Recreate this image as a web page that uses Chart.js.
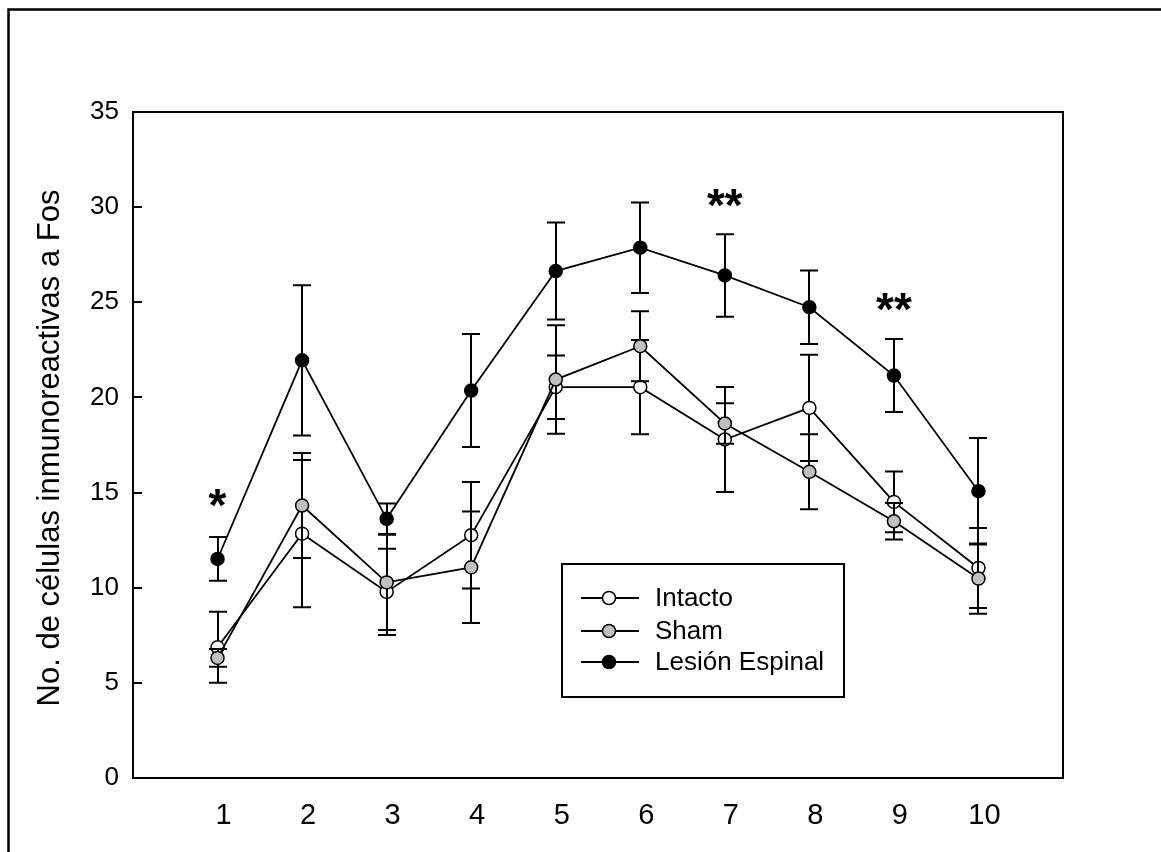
<!DOCTYPE html>
<html><head><meta charset="utf-8">
<script src="https://cdn.jsdelivr.net/npm/chart.js@4/dist/chart.umd.min.js"></script>
<style>html,body{margin:0;padding:0;background:#fff;}#wrap{position:relative;width:1161px;height:852px;}</style>
</head><body><div id="wrap"><canvas id="c" width="1161" height="852"></canvas></div>
<script>
const categories = [1,2,3,4,5,6,7,8,9,10];
const intactoMean = [6.87,12.84,9.78,12.76,20.54,20.54,17.79,19.45,14.51,11.04];
const intactoErr  = [1.87,3.87,2.27,2.80,1.67,2.48,2.76,2.79,1.60,2.10];
const shamMean    = [6.31,14.32,10.28,11.07,20.94,22.69,18.63,16.09,13.49,10.48];
const shamErr     = [0.47,2.76,2.50,2.93,2.85,1.84,1.07,1.97,0.96,1.85];
const lesionMean  = [11.51,21.95,13.62,20.36,26.64,27.87,26.41,24.74,21.15,15.07];
const lesionErr   = [1.15,3.95,0.80,2.97,2.55,2.38,2.17,1.93,1.92,2.80];
const yTicks = [0,5,10,15,20,25,30,35];
const xTicks = [1,2,3,4,5,6,7,8,9,10];
const seriesNames = ['Intacto','Sham','Lesión Espinal'];
const seriesFill = ['#ffffff','#c0c0c0','#000000'];
const yTitle = 'No. de células inmunoreactivas a Fos';
const sigX = [1,7,9];
const sigY = [14.9,30.67,25.2];
const sigText = ['*','**','**'];

const FONT = "'Liberation Sans', Arial, sans-serif";
const means = [intactoMean, shamMean, lesionMean];
const errs = [intactoErr, shamErr, lesionErr];

const datasets = seriesNames.map((name,i)=>({
  label:name,
  data: categories.map((c,j)=>({x:c,y:means[i][j]})),
  borderColor:'#000', borderWidth:1.8,
  pointRadius:6.5, pointBorderWidth:1.5, pointBorderColor:'#000',
  pointBackgroundColor:seriesFill[i], backgroundColor:seriesFill[i],
  tension:0, order:2-i, errIdx:i
}));

const extras = {
  id:'extras',
  beforeDatasetDraw(chart,args){
    const ds = chart.data.datasets[args.index];
    const e = errs[ds.errIdx], m = means[ds.errIdx];
    const ys = chart.scales.y, ctx = chart.ctx;
    ctx.save();
    ctx.strokeStyle='#000'; ctx.lineWidth=2;
    args.meta.data.forEach((pt,j)=>{
      const x = Math.round(pt.x);
      const t = ys.getPixelForValue(m[j]+e[j]), b = ys.getPixelForValue(m[j]-e[j]);
      ctx.beginPath();
      ctx.moveTo(x,t); ctx.lineTo(x,b);
      ctx.moveTo(x-9,t); ctx.lineTo(x+9,t);
      ctx.moveTo(x-9,b); ctx.lineTo(x+9,b);
      ctx.stroke();
    });
    ctx.restore();
  },
  afterDraw(chart){
    const ctx = chart.ctx, a = chart.chartArea, xs = chart.scales.x, ys = chart.scales.y;
    ctx.save();
    ctx.strokeStyle='#000'; ctx.lineWidth=2.5;
    ctx.strokeRect(8.5,9.5,1300,1000);
    ctx.lineWidth=2;
    ctx.strokeRect(a.left,a.top,a.right-a.left,a.bottom-a.top);
    ctx.beginPath();
    yTicks.forEach(v=>{const y=Math.round(ys.getPixelForValue(v));ctx.moveTo(a.left,y);ctx.lineTo(a.left+9,y);});
    ctx.lineWidth=2; ctx.stroke();
    ctx.fillStyle='#000';
    ctx.font = '31px '+FONT;
    ctx.textAlign='center'; ctx.textBaseline='middle';
    ctx.translate(50,448); ctx.rotate(-Math.PI/2);
    ctx.fillText(yTitle,0,0);
    ctx.setTransform(1,0,0,1,0,0);
    ctx.font = 'bold 46px '+FONT;
    ctx.textAlign='center'; ctx.textBaseline='alphabetic';
    sigText.forEach((s,i)=>{
      ctx.fillText(s, xs.getPixelForValue(sigX[i]), ys.getPixelForValue(sigY[i])+0.58*46);
    });
    const L={x:562,y:564,w:282,h:133};
    ctx.fillStyle='#fff'; ctx.fillRect(L.x,L.y,L.w,L.h);
    ctx.strokeStyle='#000'; ctx.lineWidth=2; ctx.strokeRect(L.x,L.y,L.w,L.h);
    const rows=[598,631,662];
    ctx.font='26px '+FONT; ctx.textAlign='left'; ctx.textBaseline='middle';
    seriesNames.forEach((n,i)=>{
      const y=rows[i];
      ctx.beginPath(); ctx.moveTo(581,y); ctx.lineTo(639,y); ctx.lineWidth=1.8; ctx.strokeStyle='#000'; ctx.stroke();
      ctx.beginPath(); ctx.arc(609,y,6.5,0,Math.PI*2); ctx.fillStyle=seriesFill[i]; ctx.fill();
      ctx.lineWidth=1.5; ctx.stroke();
      ctx.fillStyle='#000'; ctx.fillText(n,655,y+1);
    });
    ctx.restore();
  }
};

new Chart(document.getElementById('c'),{
  type:'line',
  data:{datasets},
  options:{
    responsive:false, animation:false, devicePixelRatio:1,
    layout:{padding:{left:0,top:112,right:98,bottom:0}},
    plugins:{legend:{display:false},tooltip:{enabled:false}},
    scales:{
      x:{type:'linear',min:0,max:11,
        afterBuildTicks:s=>{s.ticks=xTicks.map(v=>({value:v}));},
        grid:{display:false,drawTicks:false}, border:{display:false},
        ticks:{font:{family:FONT,size:29},color:'#000',padding:21,labelOffset:6,maxRotation:0,autoSkip:false},
        afterFit:s=>{s.height=74;}
      },
      y:{type:'linear',min:0,max:35,
        afterBuildTicks:s=>{s.ticks=yTicks.map(v=>({value:v}));},
        grid:{display:false,drawTicks:false}, border:{display:false},
        ticks:{font:{family:FONT,size:26},color:'#000',padding:14,autoSkip:false},
        afterFit:s=>{s.width=133;}
      }
    }
  },
  plugins:[extras]
});
</script></body></html>
